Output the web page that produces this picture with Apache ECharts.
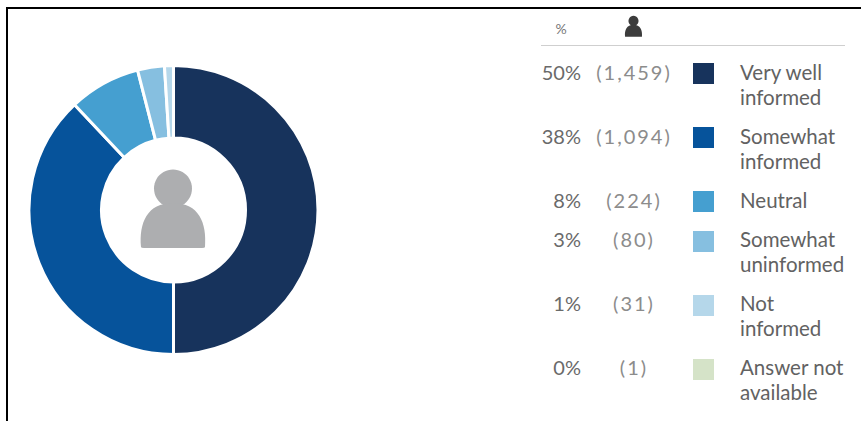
<!DOCTYPE html>
<html><head><meta charset="utf-8">
<style>html,body{margin:0;padding:0;background:#fff}#c{width:861px;height:421px}
#c text[fill="#8c8c8c"]{letter-spacing:2px}</style>
<script src="https://cdn.jsdelivr.net/npm/echarts@6/dist/echarts.min.js"></script></head>
<body><div id="c"></div><script>
const categories=["Very well\ninformed","Somewhat\ninformed","Neutral","Somewhat\nuninformed","Not\ninformed","Answer not\navailable"];
const percentValues=[50,38,8,3,1,0];
const percents=["50%","38%","8%","3%","1%","0%"];
const countLabels=["(1,459)","(1,094)","(224)","(80)","(31)","(1)"];
const colors=["#17335c","#06539b","#459fd0","#86bfe0","#b5d7ea","#d5e3c8"];
const rowY=[72,136,200,239,303,367];
const swatchY=[63,127,191,231,295,359];
const font='Lato';
const personPath=(x,y,s)=>`M${x-32*s} ${y+44*s}C${x-34*s} ${y+20*s} ${x-26*s} ${y} ${x} ${y}C${x+26*s} ${y} ${x+34*s} ${y+20*s} ${x+32*s} ${y+44*s}Q${x+32*s} ${y+45*s} ${x+29*s} ${y+45*s}L${x-29*s} ${y+45*s}Q${x-32*s} ${y+45*s} ${x-32*s} ${y+44*s}Z`;
let shapeId=0;
const person=(cx,topY,s,fill)=>{
 const name='personBody'+(shapeId++);
 echarts.graphic.registerShape(name,echarts.graphic.extendPath(personPath(cx,topY+33*s,s)));
 return [
  {type:'circle',shape:{cx:cx,cy:topY+18.5*s,r:19*s},style:{fill}},
  {type:name,style:{fill}}
 ];
};
const txt=(x,y,text,o)=>({type:'text',x,y,style:Object.assign({text,font:`20.5px ${font}`,fill:'#626262',verticalAlign:'middle'},o)});
const g=[
 {type:'rect',shape:{x:6,y:7,width:855,height:2},style:{fill:'#000'}},
 {type:'rect',shape:{x:6,y:7,width:2,height:414},style:{fill:'#000'}},
 {type:'rect',shape:{x:541,y:45,width:304,height:1},style:{fill:'#cfcfcf'}},
 txt(561,28,'%',{font:`14px ${font}`,fill:'#777',align:'center'}),
 ...person(173,170,1,'#adaeb0'),
 ...person(633.5,16,0.265,'#3c3c3c')
];
categories.forEach((c,i)=>{
 g.push(txt(581,rowY[i],percents[i],{font:`20px ${font}`,align:'right',fill:'#6a6a6a'}));
 g.push(txt(634,rowY[i],countLabels[i],{font:`20px ${font}`,align:'center',fill:'#8c8c8c'}));
 g.push({type:'rect',shape:{x:693,y:swatchY[i],width:21,height:21},style:{fill:colors[i]}});
 c.split('\n').forEach((l,j)=>g.push(txt(740,rowY[i]+j*25,l,{align:'left',fill:'#626262'})));
});
const chart=echarts.init(document.getElementById('c'),null,{renderer:'svg'});
chart.setOption({
 animation:false,
 series:[{type:'pie',center:[173.5,210],radius:[72,144.5],startAngle:90,clockwise:true,
  label:{show:false},labelLine:{show:false},emphasis:{disabled:true},
  itemStyle:{borderColor:'#fff',borderWidth:3},
  data:categories.map((c,i)=>({name:c.replace('\n',' '),value:percentValues[i],itemStyle:{color:colors[i]}}))}],
 graphic:g
});
</script></body></html>
